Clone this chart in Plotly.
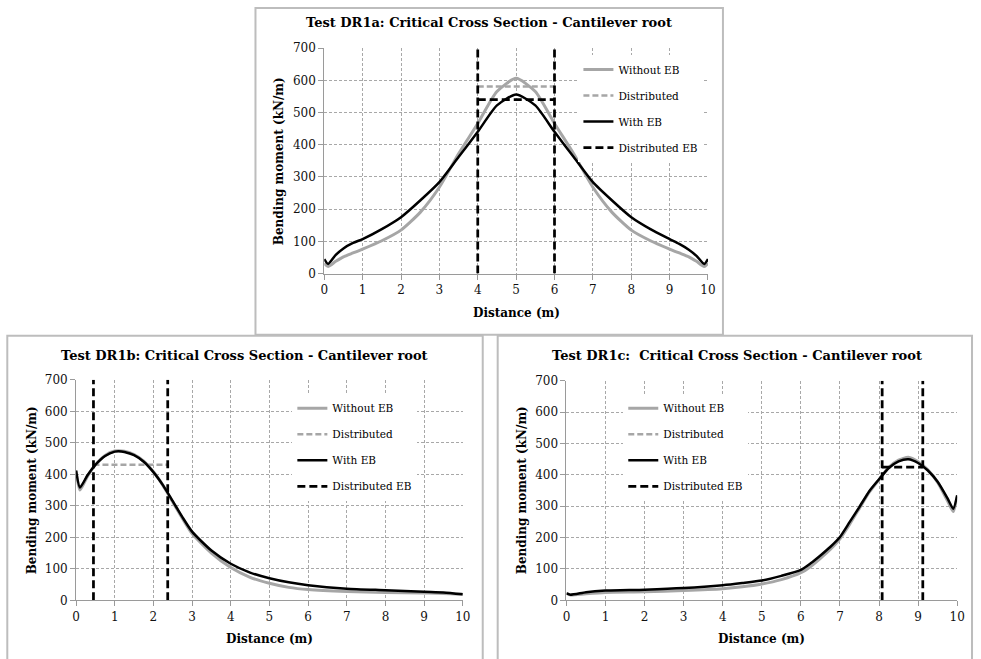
import plotly.graph_objects as go

W, H = 981, 659
FONT = "DejaVu Serif"

# ---------------- data ----------------
# Test DR1a
x_a = [0, 0.1, 0.3, 0.5, 0.75, 1, 1.5, 2, 2.5, 3, 3.5, 4, 4.5, 5, 5.5, 6, 6.5, 7, 7.5, 8, 8.5, 9, 9.25, 9.5, 9.7, 9.9, 10]
without_a = [32, 22, 38, 52, 64, 76, 102, 135, 190, 268, 372, 466, 565, 606, 565, 466, 372, 268, 190, 135, 102, 76, 64, 52, 38, 22, 32]
with_a = [45, 30, 58, 78, 95, 107, 138, 175, 227, 284, 362, 440, 522, 556, 522, 440, 362, 284, 227, 175, 138, 107, 92, 74, 55, 30, 45]
dist_a_x = [4, 6]
dist_a_without = 581
dist_a_with = 540

# Test DR1b
x_b = [0, 0.1, 0.3, 0.5, 0.75, 1, 1.1, 1.25, 1.5, 1.75, 2, 2.25, 2.5, 2.75, 3, 3.5, 4, 4.5, 5, 5.5, 6, 7, 8, 9, 9.5, 10]
without_b = [410, 350, 395, 430, 460, 474, 475, 473, 463, 442, 408, 364, 312, 260, 212, 150, 104, 73, 54, 41, 34, 28, 25, 23, 22, 19]
with_b = [412, 358, 398, 430, 458, 472, 473, 471, 461, 440, 407, 365, 315, 264, 218, 158, 116, 88, 70, 57, 48, 37, 32, 27, 25, 19]
dist_b_x = [0.45, 2.37]
dist_b_without = 430

# Test DR1c
x_c = [0, 0.1, 0.5, 1, 2, 3, 4, 4.5, 5, 5.5, 6, 6.25, 6.5, 6.75, 7, 7.25, 7.5, 7.75, 8, 8.25, 8.5, 8.75, 9, 9.25, 9.5, 9.75, 9.9, 10]
without_c = [22, 17, 21, 25, 27, 31, 37, 43, 52, 66, 88, 108, 134, 162, 196, 243, 294, 345, 385, 424, 447, 456, 442, 416, 376, 318, 283, 330]
with_c = [22, 18, 26, 31, 34, 39, 48, 55, 63, 78, 97, 118, 143, 170, 202, 250, 298, 348, 386, 422, 443, 450, 438, 414, 378, 326, 292, 335]
dist_c_x = [8.08, 9.12]
dist_c_with = 425

y_max = 700
titles = ["Test DR1a: Critical Cross Section - Cantilever root",
          "Test DR1b: Critical Cross Section - Cantilever root",
          "Test DR1c:  Critical Cross Section - Cantilever root"]
names = ["Without EB", "Distributed", "With EB", "Distributed EB"]
x_title = "Distance (m)"
y_title = "Bending moment (kN/m)"

# ---------------- layout geometry ----------------
# target positions are given in screenshot pixels; the capture maps page
# pixels to screenshot pixels with a small offset/scale, compensated here.
AX, SX = 1.7, 0.991
AY, SY = 7.0, 0.9766

def ix(x):
    return min(max((x - AX) / SX, 0), W - 1) / W

def iy(y):
    return 1 - min(max((y - AY) / SY, 0), H + 40) / H

plots = [
    dict(x0=323, x1=708, y0=48, y1=273),   # top
    dict(x0=74, x1=462, y0=379, y1=599),   # bottom-left
    dict(x0=566, x1=958, y0=380, y1=599),  # bottom-right
]

GRAY = "#a6a6a6"
fig = go.Figure()

def add_panel(i, xs, without, withv, dist_gray, dist_black):
    n = "" if i == 0 else str(i + 1)
    xa, ya = "x" + n, "y" + n
    leg = "legend" + n
    fig.add_trace(go.Scatter(x=xs, y=without, mode="lines", name=names[0],
                             line=dict(color=GRAY, width=3, shape="spline", smoothing=0.6),
                             xaxis=xa, yaxis=ya, legend=leg, legendgroup=f"g{i}a"))
    gx, gy = dist_gray if dist_gray is not None else ([None], [None])
    fig.add_trace(go.Scatter(x=gx, y=gy, mode="lines", name=names[1],
                             line=dict(color=GRAY, width=2.5, dash="6px,3px"),
                             xaxis=xa, yaxis=ya, legend=leg, legendgroup=f"g{i}b"))
    fig.add_trace(go.Scatter(x=xs, y=withv, mode="lines", name=names[2],
                             line=dict(color="#000000", width=2.5, shape="spline", smoothing=0.6),
                             xaxis=xa, yaxis=ya, legend=leg, legendgroup=f"g{i}c"))
    fig.add_trace(go.Scatter(x=dist_black[0], y=dist_black[1], mode="lines", name=names[3],
                             line=dict(color="#000000", width=2.75, dash="8px,4px"),
                             xaxis=xa, yaxis=ya, legend=leg, legendgroup=f"g{i}d"))

add_panel(0, x_a, without_a, with_a,
          (dist_a_x, [dist_a_without, dist_a_without]),
          ([dist_a_x[0], dist_a_x[0], None, dist_a_x[0], dist_a_x[1], None, dist_a_x[1], dist_a_x[1]],
           [0, y_max, None, dist_a_with, dist_a_with, None, 0, y_max]))
add_panel(1, x_b, without_b, with_b,
          (dist_b_x, [dist_b_without, dist_b_without]),
          ([dist_b_x[0], dist_b_x[0], None, dist_b_x[1], dist_b_x[1]],
           [0, y_max, None, 0, y_max]))
add_panel(2, x_c, without_c, with_c,
          None,
          ([dist_c_x[0], dist_c_x[0], None, dist_c_x[0], dist_c_x[1], None, dist_c_x[1], dist_c_x[1]],
           [0, y_max, None, dist_c_with, dist_c_with, None, 0, y_max]))

axis_common = dict(showgrid=True, gridcolor="#a8a8a8", gridwidth=1, griddash="3px,2px",
                   showline=True, linecolor="#9a9a9a", linewidth=1,
                   ticks="outside", ticklen=5, tickcolor="#9a9a9a",
                   zeroline=False, fixedrange=True,
                   tickfont=dict(family=FONT, size=12, color="#111111"))

layout = dict(width=W, height=H, margin=dict(l=0, r=0, t=0, b=0),
              paper_bgcolor="white", plot_bgcolor="white",
              font=dict(family=FONT, size=12, color="#000"))

legend_pos = [(578, 55), (291, 393), (623, 393)]
annotations = []
shapes = []
for i, p in enumerate(plots):
    n = "" if i == 0 else str(i + 1)
    layout["xaxis" + n] = dict(axis_common, domain=[ix(p["x0"]), ix(p["x1"])], range=[0, 10],
                               tick0=0, dtick=1, anchor="y" + n)
    layout["yaxis" + n] = dict(axis_common, domain=[iy(p["y1"]), iy(p["y0"])], range=[0, y_max],
                               tick0=0, dtick=100, anchor="x" + n)
    lx, ly = legend_pos[i]
    layout["legend" + n] = dict(x=ix(lx), y=iy(ly), xanchor="left", yanchor="top",
                                bgcolor="white", borderwidth=0, traceorder="grouped",
                                tracegroupgap=7, font=dict(family=FONT, size=10.5, color="#000"))

title_pos = [(488.5, 22), (243, 355), (737, 355)]
xt_y = [312, 638, 638]
yt_x = [277, 30, 521]
for i, p in enumerate(plots):
    tx, ty = title_pos[i]
    annotations.append(dict(text="<b>" + titles[i] + "</b>", x=ix(tx), y=iy(ty), xref="paper", yref="paper",
                            showarrow=False, xanchor="center", yanchor="middle",
                            font=dict(family=FONT, size=13, color="#000")))
    annotations.append(dict(text="<b>" + x_title + "</b>", x=ix((p["x0"] + p["x1"]) / 2),
                            y=iy(xt_y[i]), xref="paper", yref="paper", showarrow=False,
                            xanchor="center", yanchor="middle",
                            font=dict(family=FONT, size=12, color="#000")))
    annotations.append(dict(text="<b>" + y_title + "</b>", x=ix(yt_x[i]),
                            y=iy((p["y0"] + p["y1"]) / 2), xref="paper", yref="paper", showarrow=False,
                            xanchor="center", yanchor="middle", textangle=-90,
                            font=dict(family=FONT, size=12, color="#000")))

frames = [(254, 8, 723, 334), (5, 335, 482, 700), (497, 335, 977, 700)]
for (x0, y0, x1, y1) in frames:
    shapes.append(dict(type="rect", xref="paper", yref="paper",
                       x0=ix(x0), x1=ix(x1), y0=iy(y1), y1=iy(y0),
                       line=dict(color="#bdbdbd", width=2), fillcolor="rgba(0,0,0,0)", layer="below"))

layout["annotations"] = annotations
layout["shapes"] = shapes
fig.update_layout(**layout)

post = ("document.documentElement.style.margin='0';"
        "document.documentElement.style.overflow='hidden';"
        "document.body.style.margin='0';"
        "document.body.style.padding='0';"
        "document.body.style.overflow='hidden';"
        "var d=document.querySelector('.plotly-graph-div');"
        "d.style.position='fixed';d.style.left='0px';d.style.top='0px';")
fig.write_html("out.html", post_script=post, config={"displayModeBar": False})
